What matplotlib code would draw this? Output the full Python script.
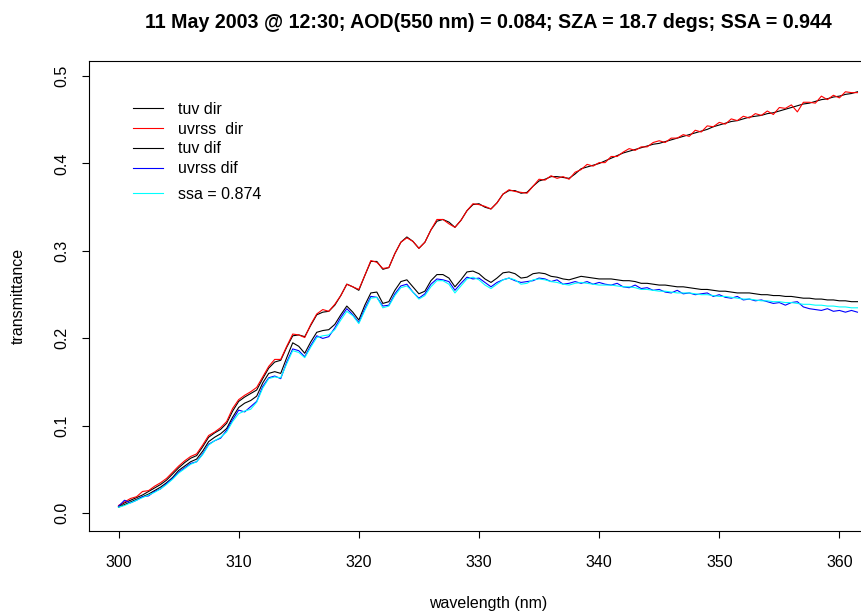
import numpy as np
import matplotlib
matplotlib.use("Agg")
import matplotlib.pyplot as plt
from matplotlib.lines import Line2D

plt.rcParams['font.family'] = ['Liberation Sans', 'DejaVu Sans']

# wavelength grid (nm), 0.5 nm step
wl = np.arange(300.0, 362.0, 0.5)

# tuv direct transmittance
tuv_dir = [
    0.008, 0.012, 0.015, 0.018, 0.021, 0.025, 0.029, 0.033, 0.038, 0.045,
    0.052, 0.058, 0.063, 0.066, 0.076, 0.087, 0.092, 0.096, 0.103, 0.117,
    0.128, 0.133, 0.137, 0.141, 0.154, 0.166, 0.173, 0.175, 0.190, 0.203,
    0.204, 0.202, 0.215, 0.227, 0.230, 0.231, 0.238, 0.249, 0.262, 0.259,
    0.255, 0.272, 0.288, 0.288, 0.279, 0.281, 0.297, 0.310, 0.316, 0.311,
    0.303, 0.310, 0.324, 0.334, 0.336, 0.333, 0.327, 0.335, 0.346, 0.353,
    0.354, 0.350, 0.348, 0.355, 0.365, 0.369, 0.369, 0.366, 0.367, 0.374,
    0.380, 0.382, 0.385, 0.385, 0.384, 0.383, 0.388, 0.394, 0.396, 0.398,
    0.400, 0.403, 0.406, 0.409, 0.412, 0.414, 0.416, 0.418, 0.420, 0.422,
    0.423, 0.425, 0.427, 0.429, 0.431, 0.433, 0.435, 0.437, 0.439, 0.442,
    0.444, 0.446, 0.448, 0.449, 0.451, 0.453, 0.454, 0.455, 0.457, 0.458,
    0.460, 0.462, 0.464, 0.466, 0.468, 0.469, 0.471, 0.473, 0.474, 0.476,
    0.477, 0.479, 0.480, 0.482]

# uvrss direct transmittance
uvrss_dir = [
    0.009, 0.013, 0.017, 0.019, 0.025, 0.026, 0.031, 0.035, 0.040, 0.047,
    0.054, 0.060, 0.065, 0.068, 0.078, 0.089, 0.093, 0.098, 0.105, 0.120,
    0.130, 0.135, 0.139, 0.144, 0.156, 0.168, 0.176, 0.176, 0.191, 0.205,
    0.204, 0.201, 0.216, 0.228, 0.233, 0.231, 0.239, 0.249, 0.262, 0.259,
    0.256, 0.272, 0.289, 0.287, 0.280, 0.281, 0.297, 0.310, 0.315, 0.311,
    0.303, 0.310, 0.324, 0.336, 0.336, 0.331, 0.327, 0.335, 0.346, 0.354,
    0.353, 0.351, 0.348, 0.355, 0.365, 0.370, 0.368, 0.367, 0.366, 0.374,
    0.382, 0.381, 0.386, 0.383, 0.385, 0.382, 0.390, 0.393, 0.399, 0.397,
    0.401, 0.401, 0.408, 0.408, 0.413, 0.417, 0.415, 0.419, 0.419, 0.424,
    0.426, 0.424, 0.429, 0.429, 0.433, 0.431, 0.438, 0.436, 0.443, 0.442,
    0.447, 0.445, 0.451, 0.449, 0.454, 0.452, 0.457, 0.455, 0.460, 0.456,
    0.464, 0.463, 0.467, 0.459, 0.470, 0.470, 0.469, 0.477, 0.473, 0.478,
    0.475, 0.482, 0.481, 0.481]

# tuv diffuse transmittance
tuv_dif = [
    0.007, 0.010, 0.013, 0.016, 0.019, 0.022, 0.026, 0.030, 0.035, 0.041,
    0.049, 0.054, 0.059, 0.062, 0.071, 0.082, 0.087, 0.091, 0.097, 0.110,
    0.121, 0.126, 0.129, 0.134, 0.149, 0.160, 0.162, 0.160, 0.178, 0.195,
    0.191, 0.183, 0.196, 0.207, 0.209, 0.210, 0.216, 0.227, 0.237, 0.230,
    0.221, 0.238, 0.252, 0.253, 0.240, 0.242, 0.255, 0.265, 0.267, 0.259,
    0.251, 0.254, 0.266, 0.273, 0.273, 0.269, 0.259, 0.267, 0.276, 0.277,
    0.274, 0.268, 0.264, 0.269, 0.275, 0.276, 0.274, 0.269, 0.270, 0.274,
    0.275, 0.274, 0.271, 0.270, 0.268, 0.267, 0.269, 0.271, 0.270, 0.269,
    0.268, 0.268, 0.268, 0.267, 0.266, 0.266, 0.265, 0.263, 0.263, 0.262,
    0.261, 0.261, 0.260, 0.259, 0.259, 0.258, 0.257, 0.256, 0.256, 0.255,
    0.254, 0.254, 0.253, 0.252, 0.252, 0.252, 0.251, 0.250, 0.250, 0.249,
    0.249, 0.248, 0.248, 0.247, 0.246, 0.246, 0.245, 0.245, 0.244, 0.244,
    0.243, 0.243, 0.242, 0.242]

# uvrss diffuse transmittance
uvrss_dif = [
    0.008, 0.015, 0.012, 0.015, 0.019, 0.020, 0.025, 0.028, 0.034, 0.040,
    0.047, 0.052, 0.057, 0.059, 0.068, 0.079, 0.083, 0.086, 0.095, 0.107,
    0.118, 0.116, 0.122, 0.128, 0.145, 0.155, 0.157, 0.154, 0.173, 0.188,
    0.186, 0.179, 0.192, 0.203, 0.200, 0.202, 0.212, 0.224, 0.234, 0.227,
    0.218, 0.234, 0.248, 0.247, 0.237, 0.238, 0.251, 0.260, 0.262, 0.253,
    0.246, 0.251, 0.262, 0.268, 0.267, 0.265, 0.255, 0.263, 0.270, 0.268,
    0.269, 0.264, 0.259, 0.264, 0.267, 0.269, 0.266, 0.264, 0.265, 0.266,
    0.269, 0.268, 0.265, 0.267, 0.262, 0.263, 0.265, 0.263, 0.265, 0.262,
    0.264, 0.262, 0.261, 0.263, 0.259, 0.258, 0.261, 0.257, 0.258, 0.255,
    0.256, 0.253, 0.252, 0.255, 0.251, 0.252, 0.250, 0.251, 0.252, 0.248,
    0.250, 0.247, 0.246, 0.248, 0.244, 0.245, 0.243, 0.244, 0.242, 0.240,
    0.241, 0.238, 0.241, 0.242, 0.236, 0.234, 0.233, 0.232, 0.234, 0.231,
    0.232, 0.230, 0.232, 0.230]

# uvrss diffuse with ssa = 0.874
ssa_dif = [
    0.007, 0.009, 0.012, 0.015, 0.018, 0.021, 0.024, 0.028, 0.033, 0.039,
    0.046, 0.051, 0.056, 0.059, 0.067, 0.078, 0.083, 0.087, 0.093, 0.105,
    0.114, 0.117, 0.119, 0.127, 0.143, 0.154, 0.156, 0.155, 0.171, 0.186,
    0.184, 0.178, 0.190, 0.201, 0.203, 0.204, 0.210, 0.221, 0.231, 0.226,
    0.217, 0.232, 0.246, 0.247, 0.235, 0.237, 0.249, 0.258, 0.260, 0.253,
    0.245, 0.249, 0.259, 0.266, 0.266, 0.262, 0.252, 0.260, 0.268, 0.270,
    0.267, 0.261, 0.257, 0.262, 0.267, 0.269, 0.267, 0.262, 0.263, 0.267,
    0.268, 0.267, 0.265, 0.264, 0.262, 0.261, 0.263, 0.264, 0.263, 0.262,
    0.261, 0.261, 0.261, 0.260, 0.259, 0.259, 0.258, 0.256, 0.256, 0.255,
    0.254, 0.254, 0.253, 0.252, 0.252, 0.252, 0.251, 0.250, 0.250, 0.249,
    0.248, 0.248, 0.247, 0.246, 0.245, 0.245, 0.244, 0.243, 0.243, 0.242,
    0.242, 0.241, 0.241, 0.240, 0.239, 0.239, 0.238, 0.238, 0.237, 0.237,
    0.236, 0.236, 0.235, 0.235]

title = "11 May 2003 @ 12:30; AOD(550 nm) = 0.084; SZA = 18.7 degs; SSA = 0.944"

fig = plt.figure(figsize=(8.62, 6.11), dpi=100)
# plot region runs past the right edge of the picture
ax = fig.add_axes([0.1032, 0.1309, 0.9258, 0.7693])

lw = 0.8
for y, c in [(tuv_dir, "black"), (uvrss_dir, "red"), (tuv_dif, "black"),
             (uvrss_dif, "blue"), (ssa_dif, "cyan")]:
    ax.plot(wl, y, color=c, lw=lw, solid_joinstyle="round")

ax.set_xlim(297.54, 363.96)
ax.set_ylim(-0.0202, 0.5172)
ax.set_xticks([300, 310, 320, 330, 340, 350, 360])
ax.set_yticks([0.0, 0.1, 0.2, 0.3, 0.4, 0.5])
ax.set_yticklabels(["0.0", "0.1", "0.2", "0.3", "0.4", "0.5"], rotation=90, va="center")
ax.tick_params(axis="both", direction="out", length=5, width=0.8, labelsize=11.5)
ax.tick_params(axis="x", pad=12)
ax.tick_params(axis="y", pad=9)
for s in ax.spines.values():
    s.set_linewidth(0.8)

ax.set_xlabel("wavelength (nm)", fontsize=11.5, labelpad=19)
ax.set_ylabel("transmittance", fontsize=11.5, labelpad=21)
ax.set_title(title, fontsize=14.1, fontweight="bold", pad=24)

handles = [Line2D([], [], color="black", lw=lw),
           Line2D([], [], color="red", lw=lw),
           Line2D([], [], color="black", lw=lw),
           Line2D([], [], color="blue", lw=lw)]
labels = ["tuv dir", "uvrss  dir", "tuv dif", "uvrss dif"]
leg1 = ax.legend(handles, labels, loc="upper left", bbox_to_anchor=(0.055, 0.913),
                 frameon=False, fontsize=11.5, handlelength=1.9, handletextpad=0.95,
                 labelspacing=0.3, borderaxespad=0, borderpad=0)
ax.add_artist(leg1)
ax.legend([Line2D([], [], color="cyan", lw=lw)], ["ssa = 0.874"], loc="upper left",
          bbox_to_anchor=(0.055, 0.732), frameon=False, fontsize=11.5, handlelength=1.9,
          handletextpad=0.95, borderaxespad=0, borderpad=0)

fig.savefig("out.png", dpi=100)
